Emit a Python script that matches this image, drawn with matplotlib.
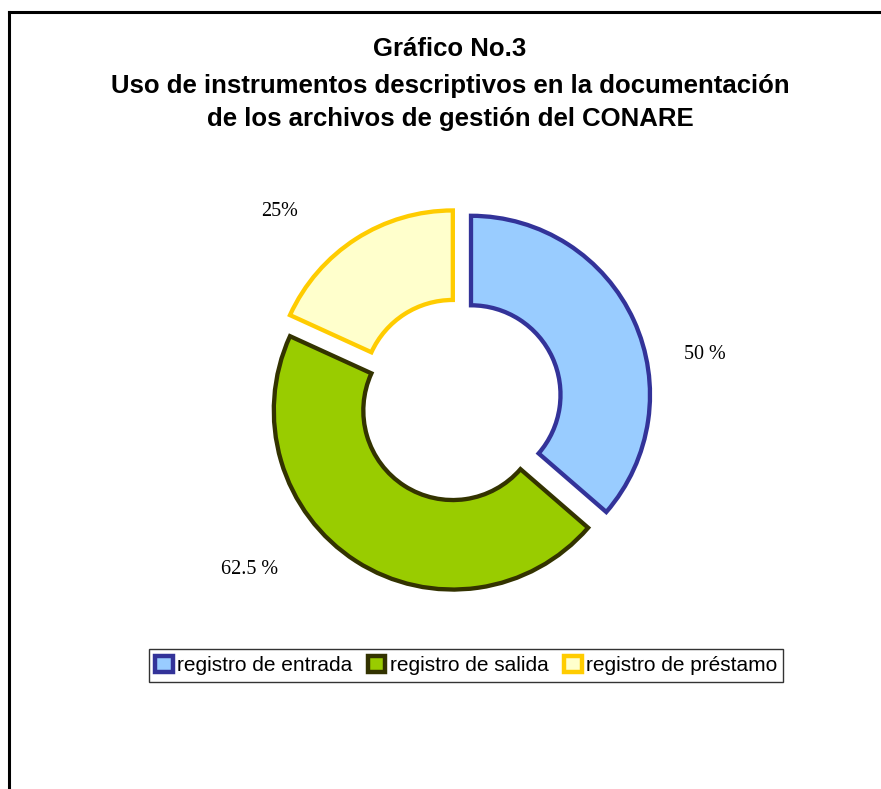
import matplotlib
matplotlib.use("Agg")
import matplotlib.pyplot as plt
from matplotlib.patches import Patch
from matplotlib.lines import Line2D

categories = ["registro de entrada", "registro de salida", "registro de préstamo"]
values = [50, 62.5, 25]
value_labels = ["50 %", "62.5 %", "25%"]
face_colors = ["#99CCFF", "#99CC00", "#FFFFCC"]
edge_colors = ["#333399", "#333300", "#FFCC00"]
title_lines = ["Gráfico No.3",
               "Uso de instrumentos descriptivos en la documentación",
               "de los archivos de gestión del CONARE"]

W, H = 881, 789
U = 179.0  # pixels per data unit (outer radius)
fig = plt.figure(figsize=(W / 100, H / 100), dpi=100)
fig.patch.set_facecolor("white")
ax = fig.add_axes([0, 0, 1, 1])
ax.set_xlim(0, W / U)
ax.set_ylim(0, H / U)
ax.set_aspect("equal")
ax.axis("off")

cx, cy = 459.6, 400.0
wedges, _ = ax.pie(values, center=(cx / U, (H - cy) / U), radius=1.0,
                   startangle=90, counterclock=False,
                   explode=[0.07, 0.07, 0.07],
                   colors=face_colors,
                   wedgeprops=dict(width=0.5, linewidth=3.1, joinstyle="miter"),
                   frame=True)
for w, ec in zip(wedges, edge_colors):
    w.set_edgecolor(ec)
ax.axis("off")
ax.set_xlim(0, W / U)
ax.set_ylim(0, H / U)

label_pos = [(705, 355), (250, 569), (280, 212)]
for (px, py), t in zip(label_pos, value_labels):
    ax.text(px / U, (H - py) / U, t, ha="center", va="center",
            fontsize=14.5, family="Liberation Serif", color="black")

ys = [49, 86, 119]
for y, t in zip(ys, title_lines):
    fig.text(450 / W, 1 - y / H, t, ha="center", va="center",
             fontsize=18.5, fontweight="bold", family="Liberation Sans")

handles = [Patch(facecolor=fc, edgecolor=ec, linewidth=3.2)
           for fc, ec in zip(face_colors, edge_colors)]
leg = fig.legend(handles, categories, loc="center", bbox_to_anchor=(466 / W, 1 - 665.5 / H),
                 ncol=3, frameon=True, fancybox=False, edgecolor="black",
                 prop=dict(family="Liberation Sans", size=15),
                 handlelength=0.85, handleheight=0.85, handletextpad=0.2,
                 columnspacing=0.75, borderpad=0.3, borderaxespad=0)
leg.get_frame().set_linewidth(1.0)

# outer frame
fig.add_artist(Line2D([9 / W, 9 / W], [0, 1 - 11.5 / H], transform=fig.transFigure,
                      color="black", lw=2.2, solid_capstyle="projecting"))
fig.add_artist(Line2D([9 / W, 1], [1 - 11.5 / H, 1 - 11.5 / H], transform=fig.transFigure,
                      color="black", lw=2.2, solid_capstyle="projecting"))

fig.savefig("out.png", dpi=100, facecolor="white")
